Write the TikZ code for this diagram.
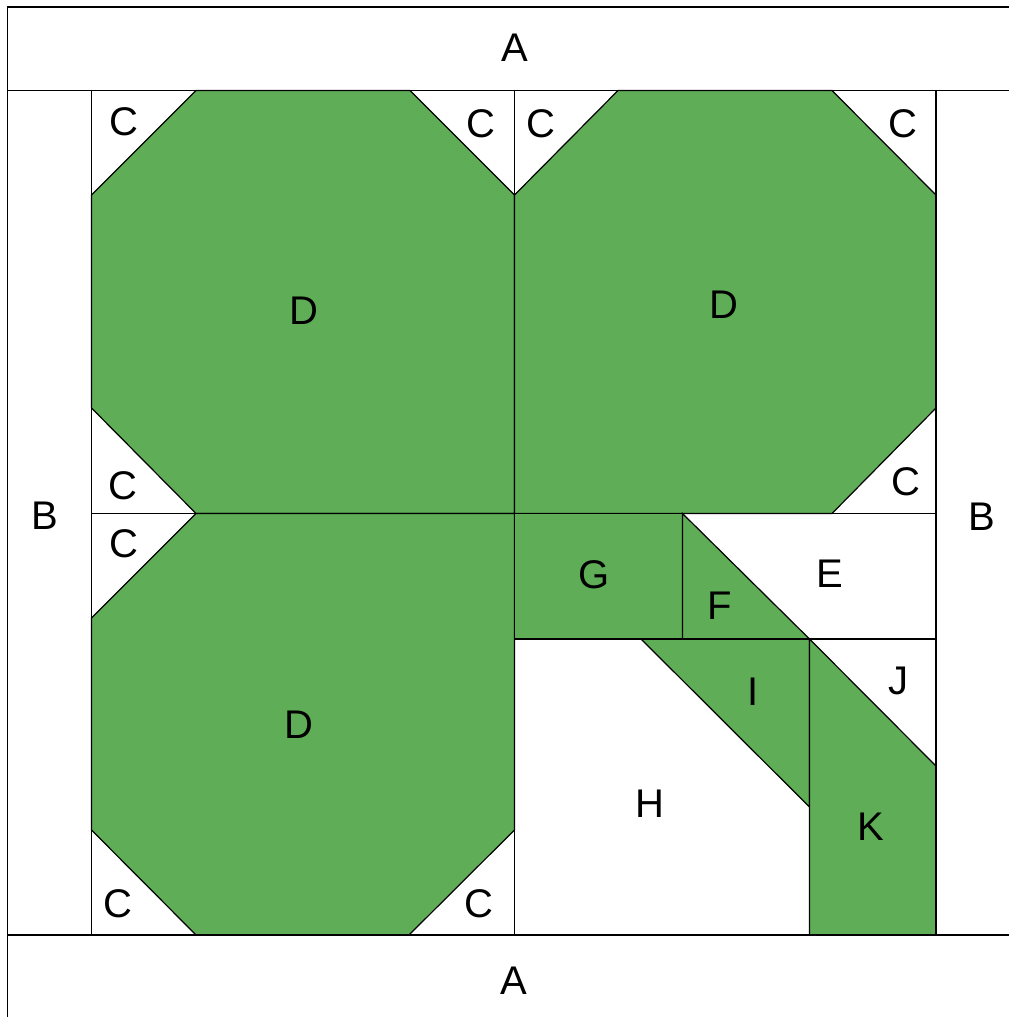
\documentclass[tikz,border=0pt]{standalone}
\usepackage{fontspec}
\setmainfont{Liberation Sans}
\definecolor{PatchGreen}{HTML}{5FAD57}
\begin{document}
\begin{tikzpicture}[x=0.75pt, y=-0.75pt,
  patch/.style={draw=black, line width=0.9pt, fill=PatchGreen, line join=miter},
  seam/.style={draw=black, line width=0.9pt},
  lbl/.style={font=\fontsize{30}{32}\selectfont, text=black, inner sep=0pt}
]
  \useasboundingbox (0,0) rectangle (1009,1017);
  % green pieces
  \draw[patch] (196,90.5) -- (410,90.5) -- (514.5,195) -- (514.5,513.5) -- (196,513.5) -- (91.5,408) -- (91.5,195) -- cycle;
  \draw[patch] (618,90.5) -- (832,90.5) -- (936,195) -- (936,408) -- (832,513.5) -- (514.5,513.5) -- (514.5,195) -- cycle;
  \draw[patch] (196,513.5) -- (514.5,513.5) -- (514.5,830) -- (409,935) -- (196,935) -- (91.5,830) -- (91.5,618) -- cycle;
  \draw[patch] (514.5,513.5) -- (682.5,513.5) -- (682.5,639) -- (514.5,639) -- cycle;
  \draw[patch] (682.5,513.5) -- (809.5,639) -- (682.5,639) -- cycle;
  \draw[patch] (641,639) -- (809.5,639) -- (809.5,807) -- cycle;
  \draw[patch] (809.5,639) -- (936,766) -- (936,935) -- (809.5,935) -- cycle;
  % seams
  \draw[seam] (1009,7) -- (7.5,7) -- (7.5,1017);
  \draw[seam] (7.5,90.5) -- (1009,90.5);
  \draw[seam] (7.5,935) -- (1009,935);
  \draw[seam] (91.5,90.5) -- (91.5,935);
  \draw[seam] (514.5,90.5) -- (514.5,935);
  \draw[seam] (936,90.5) -- (936,935);
  \draw[seam] (91.5,513.5) -- (936,513.5);
  \draw[seam] (514.5,639) -- (936,639);
  % labels
  \node[lbl] (atop) at (515,48) {A};
  \node[lbl] (abot) at (514,981) {A};
  \node[lbl] (bleft) at (45,516) {B};
  \node[lbl] (bright) at (982,517) {B};
  \node[lbl] (c1) at (124,122) {C};
  \node[lbl] (c2) at (481,124) {C};
  \node[lbl] (c3) at (541,124) {C};
  \node[lbl] (c4) at (903,124) {C};
  \node[lbl] (c5) at (123,486) {C};
  \node[lbl] (c6) at (906,482) {C};
  \node[lbl] (c7) at (124,544) {C};
  \node[lbl] (c8) at (118,904) {C};
  \node[lbl] (c9) at (479,904) {C};
  \node[lbl] (d1) at (304,311) {D};
  \node[lbl] (d2) at (724,305) {D};
  \node[lbl] (d3) at (299,725) {D};
  \node[lbl] (e) at (830,574) {E};
  \node[lbl] (f) at (720,606) {F};
  \node[lbl] (g) at (594,575) {G};
  \node[lbl] (h) at (650,804) {H};
  \node[lbl] (i) at (753,692) {I};
  \node[lbl] (j) at (898,681) {J};
  \node[lbl] (k) at (871,827) {K};
\end{tikzpicture}
\end{document}
